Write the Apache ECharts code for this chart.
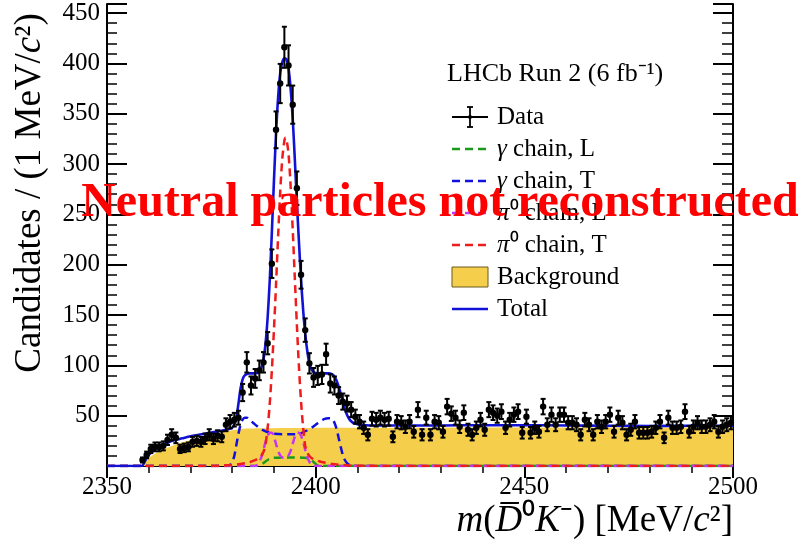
<!DOCTYPE html>
<html><head><meta charset="utf-8">
<script src="https://cdn.jsdelivr.net/npm/echarts@6/dist/echarts.min.js"></script>
<style>html,body{margin:0;padding:0;background:#fff}#c{width:798px;height:549px}</style>
</head><body><div id="c"></div>
<script>
// ---------------- data ----------------
const xRange = [2350, 2500];
const yRange = [0, 459];
const binStart = 2350.5;   // centre of first 1 MeV bin
const binWidth = 1;
const counts = [
  null,null,null,null,null,null,null,null,
  6,11,17,19,19,20,26,31,28,17,
  18,19,24,25,24,27,31,27,30,29,
  41,44,46,48,73,103,80,87,95,103,
  122,201,334,380,416,398,359,276,190,135,
  102,88,90,91,111,82,80,70,64,62,
  56,49,44,38,31,47,46,48,46,47,
  29,44,43,39,44,34,56,31,48,31,
  44,43,34,59,52,48,39,53,36,31,
  38,46,36,56,53,50,54,38,46,51,
  54,33,49,33,38,34,59,41,51,41,
  51,51,43,43,41,31,46,41,31,44,
  39,44,51,34,48,43,31,36,44,33,
  33,33,34,38,44,28,48,38,38,39,
  54,34,39,43,39,39,41,44,34,39,
  41,43
];
const background = [[2350,0],[2358.5,0],[2359,2],[2359.5,5],[2360,8],[2361,11],[2362,13.5],[2363,15.5],[2364,17.5],[2365,19],[2366,20.5],[2367,22],[2368,23.5],[2369,24.5],[2370,25.5],[2372,27.5],[2374,29.5],[2376,31.5],[2378,33.5],[2380,35.5],[2382,36.8],[2384,37.3],[2388,37.6],[2395,37.8],[2410,38],[2450,38.3],[2480,38.2],[2500,38.3]];
const total = [[2350,0],[2358.3,0],[2359,4],[2359.5,8],[2360,11],[2361,15],[2362,18],[2363,20.5],[2364,22.5],[2365,24],[2366,25.5],[2368,27.5],[2370,29.5],[2372,31],[2374,32.5],[2376,34],[2378,35.5],[2379,36.5],[2380,38],[2380.5,41],[2381,48],[2381.5,62],[2382,77],[2382.5,86],[2383,90],[2384,92],[2385,92],[2386,92.5],[2386.5,94],[2387,98],[2387.5,106],[2388,122],[2388.5,148],[2389,185],[2389.5,232],[2390,283],[2390.5,330],[2391,366],[2391.5,390],[2392,401],[2392.5,405],[2393,404],[2393.5,395],[2394,375],[2394.5,345],[2395,305],[2395.5,262],[2396,222],[2396.5,185],[2397,155],[2397.5,131],[2398,114],[2398.5,102],[2399,96],[2399.5,93.5],[2400,92.5],[2401,92],[2402,92],[2403,92],[2404,91],[2404.5,89],[2405,85],[2405.5,79],[2406,72],[2406.5,64],[2407,57],[2407.5,51],[2408,47],[2408.5,44.5],[2409,43],[2410,41.5],[2411,40.8],[2413,40.3],[2420,40.2],[2430,40.3],[2440,40.5],[2450,40.5],[2460,40.3],[2470,40],[2480,39.8],[2490,40],[2500,40]];
const pi0ChainT = [[2350,0],[2375,0],[2378,0.5],[2380,1],[2382,2],[2384,3.5],[2385,5],[2386,7],[2386.5,8.5],[2387,10.5],[2387.5,14],[2388,22],[2388.5,38],[2389,62],[2389.5,95],[2390,135],[2390.5,180],[2391,228],[2391.5,272],[2392,305],[2392.5,323],[2392.8,326],[2393,325],[2393.5,310],[2394,278],[2394.5,235],[2395,187],[2395.5,140],[2396,98],[2396.5,64],[2397,38],[2397.5,20],[2398,13],[2398.5,10],[2399,8],[2400,6],[2401,4.5],[2402,3.5],[2404,2],[2406,1.2],[2408,0.6],[2412,0.2],[2420,0],[2500,0]];
const gammaChainT = [[2350,0],[2379,0],[2379.5,1],[2380,4],[2380.5,10],[2381,21],[2381.5,32],[2382,41],[2382.5,46],[2383,48],[2383.5,48],[2384,46.5],[2385,43],[2386,39.5],[2387,36.5],[2388,34.5],[2389,33],[2390,32],[2392,31.5],[2394,31.5],[2396,32],[2397,33.5],[2398,35.5],[2399,38],[2400,41],[2401,44],[2402,46.5],[2403,47.5],[2403.5,47.5],[2404,46.5],[2404.5,43],[2405,37],[2405.5,28],[2406,19],[2406.5,11],[2407,6],[2407.5,3],[2408,1.5],[2409,0.5],[2410,0],[2500,0]];
const pi0ChainL = [[2350,0],[2385.5,0],[2386,1],[2386.5,4],[2387,9],[2387.5,16],[2388,24],[2388.5,30],[2389,33],[2389.5,33],[2390,29],[2390.5,22],[2391,15],[2391.5,10.5],[2392,8.5],[2392.5,8],[2393,8.5],[2393.5,10.5],[2394,15],[2394.5,22],[2395,29],[2395.5,33],[2396,33],[2396.5,30],[2397,24],[2397.5,16],[2398,9],[2398.5,4],[2399,1.5],[2399.5,0],[2500,0]];
const gammaChainL = [[2350,0],[2386,0],[2386.5,0.5],[2387.5,3],[2388.5,6],[2389.5,7.8],[2391,8.3],[2394,8.5],[2397,8.3],[2398.5,7.5],[2399.5,4],[2400.3,1],[2401,0],[2500,0]];

// ---------------- style ----------------
const SERIF = "'Liberation Serif','Times New Roman',serif";
const C = {green:'#1a9a1a', blue:'#1010e0', magenta:'#c436f2', red:'#ee1c1c', bkg:'#f5cf4b', total:'#1212d6'};
const DASH = [8,5];
const LFS = 25; // legend font size

// data points with Poisson errors
const points = [];
counts.forEach((n,i)=>{ if(n!==null) points.push([binStart+i*binWidth, n, Math.sqrt(n)]); });

const chart = echarts.init(document.getElementById('c'), null, {renderer:'canvas'});
const axisCommon = {type:'value', min:xRange[0], max:xRange[1], interval:50, splitLine:{show:false}};
const lineBlack = {color:'#000', width:2};
const rich = {
  i:{fontFamily:SERIF, fontStyle:'italic', fontSize:LFS, color:'#000'}
};
function legendLine(y,color){
  return {type:'line', shape:{x1:452,y1:y,x2:488,y2:y}, style:{stroke:color,lineWidth:2.5,lineDash:DASH}, z:50};
}
function legendText(y,txt){
  return {type:'text', x:497, y:y, style:{text:txt, font:LFS+'px '+SERIF, fill:'#000', verticalAlign:'middle', rich:rich}, z:50};
}
const LY = [117,149,181,213,245,277,309];

const option = {
  animation:false,
  backgroundColor:'#fff',
  grid:{left:107, right:65, top:4, bottom:83, containLabel:false},
  xAxis:[
    Object.assign({}, axisCommon, {position:'bottom',
      axisLine:{show:true,lineStyle:lineBlack},
      axisTick:{inside:true,length:11,lineStyle:lineBlack},
      minorTick:{show:true,splitNumber:5,length:6,lineStyle:{color:'#000',width:1.5}},
      axisLabel:{fontFamily:SERIF,fontSize:25,color:'#000',margin:9, formatter:v=>String(v)}}),
    Object.assign({}, axisCommon, {position:'top',
      axisLine:{show:true,lineStyle:lineBlack},
      axisTick:{inside:true,length:12,lineStyle:lineBlack},
      minorTick:{show:true,splitNumber:5,length:7,lineStyle:{color:'#000',width:1.5}},
      axisLabel:{show:false}})
  ],
  yAxis:[
    {type:'value', min:yRange[0], max:yRange[1], interval:50, position:'left',
      splitLine:{show:false},
      axisLine:{show:true,lineStyle:lineBlack},
      axisTick:{inside:true,length:20,lineStyle:lineBlack},
      axisLabel:{fontFamily:SERIF,fontSize:25,color:'#000',margin:7,
        formatter:v=> (v>0 && v%50===0) ? String(v) : ''}},
    {type:'value', min:yRange[0], max:yRange[1], interval:10, position:'left',
      splitLine:{show:false}, axisLine:{show:false},
      axisTick:{inside:true,length:10,lineStyle:{color:'#000',width:1.5}},
      axisLabel:{show:false}},
    {type:'value', min:yRange[0], max:yRange[1], interval:50, position:'right',
      splitLine:{show:false},
      axisLine:{show:true,lineStyle:lineBlack},
      axisTick:{inside:true,length:20,lineStyle:lineBlack},
      axisLabel:{show:false}},
    {type:'value', min:yRange[0], max:yRange[1], interval:10, position:'right',
      splitLine:{show:false}, axisLine:{show:false},
      axisTick:{inside:true,length:11,lineStyle:{color:'#000',width:1.5}},
      axisLabel:{show:false}}
  ],
  series:[
    {name:'Background', type:'line', data:background, symbol:'none', smooth:0.3, z:1,
      lineStyle:{width:0}, areaStyle:{color:C.bkg, opacity:1}},
    {name:'γ chain, L', type:'line', data:gammaChainL, symbol:'none', smooth:0.3, z:3,
      lineStyle:{color:C.green,width:2.5,type:DASH}},
    {name:'γ chain, T', type:'line', data:gammaChainT, symbol:'none', smooth:0.3, z:3,
      lineStyle:{color:C.blue,width:2.5,type:DASH}},
    {name:'π0 chain, L', type:'line', data:pi0ChainL, symbol:'none', smooth:0.3, z:3,
      lineStyle:{color:C.magenta,width:2.5,type:DASH}},
    {name:'π0 chain, T', type:'line', data:pi0ChainT, symbol:'none', smooth:0.3, z:3,
      lineStyle:{color:C.red,width:2.5,type:DASH}},
    {name:'Total', type:'line', data:total, symbol:'none', smooth:0.3, z:4,
      lineStyle:{color:C.total,width:2.6}},
    {name:'Data', type:'custom', z:6, data:points, encode:{x:0,y:1},
      renderItem:function(params, api){
        const x=api.value(0), y=api.value(1), e=api.value(2);
        const c=api.coord([x,y]), t=api.coord([x,y+e]), b=api.coord([x,Math.max(0,y-e)]);
        const l=api.coord([x-binWidth/2,y]), r=api.coord([x+binWidth/2,y]);
        const st={stroke:'#000',lineWidth:2};
        return {type:'group', children:[
          {type:'line', shape:{x1:c[0],y1:t[1],x2:c[0],y2:b[1]}, style:st},
          {type:'line', shape:{x1:c[0]-2.5,y1:t[1],x2:c[0]+2.5,y2:t[1]}, style:st},
          {type:'line', shape:{x1:c[0]-2.5,y1:b[1],x2:c[0]+2.5,y2:b[1]}, style:st},
          {type:'line', shape:{x1:l[0],y1:c[1],x2:r[0],y2:c[1]}, style:st},
          {type:'circle', shape:{cx:c[0],cy:c[1],r:3.2}, style:{fill:'#000'}}
        ]};
      }}
  ],
  graphic:[
    // axis titles
    {type:'text', x:30, y:193, rotation:Math.PI/2, z:50,
      style:{text:'Candidates / (1 MeV/{ci|c}²)', font:'37px '+SERIF, fill:'#000', align:'center', verticalAlign:'middle',
        rich:{ci:{fontFamily:SERIF,fontStyle:'italic',fontSize:37,color:'#000'}}}},
    {type:'text', x:733, y:521, z:50,
      style:{text:'{ci|m}({ci|D\u0305}⁰{ci|K}⁻) [MeV/{ci|c}²]', font:'37px '+SERIF, fill:'#000', align:'right', verticalAlign:'middle',
        rich:{ci:{fontFamily:SERIF,fontStyle:'italic',fontSize:37,color:'#000'}}}},
    // legend
    {type:'text', x:447, y:74, z:50, style:{text:'LHCb Run 2 (6 fb⁻¹)', font:'26px '+SERIF, fill:'#000', verticalAlign:'middle'}},
    {type:'line', shape:{x1:452,y1:LY[0],x2:488,y2:LY[0]}, style:{stroke:'#000',lineWidth:1.8}, z:50},
    {type:'line', shape:{x1:470,y1:LY[0]-10,x2:470,y2:LY[0]+10}, style:{stroke:'#000',lineWidth:1.8}, z:50},
    {type:'line', shape:{x1:467,y1:LY[0]-10,x2:473,y2:LY[0]-10}, style:{stroke:'#000',lineWidth:1.8}, z:50},
    {type:'line', shape:{x1:467,y1:LY[0]+10,x2:473,y2:LY[0]+10}, style:{stroke:'#000',lineWidth:1.8}, z:50},
    {type:'circle', shape:{cx:470,cy:LY[0],r:2}, style:{fill:'#000'}, z:50},
    legendText(LY[0],'Data'),
    legendLine(LY[1],C.green), legendText(LY[1],'{i|γ} chain, L'),
    legendLine(LY[2],C.blue), legendText(LY[2],'{i|γ} chain, T'),
    legendLine(LY[3],C.magenta), legendText(LY[3],'{i|π}⁰ chain, L'),
    legendLine(LY[4],C.red), legendText(LY[4],'{i|π}⁰ chain, T'),
    {type:'rect', shape:{x:452,y:LY[5]-10,width:36,height:20}, style:{fill:C.bkg,stroke:'#6a5a20',lineWidth:1}, z:50},
    legendText(LY[5],'Background'),
    {type:'line', shape:{x1:452,y1:LY[6],x2:488,y2:LY[6]}, style:{stroke:C.total,lineWidth:2.6}, z:50},
    legendText(LY[6],'Total'),
    // watermark
    {type:'text', x:440, y:204, z:100,
      style:{text:'Neutral particles not reconstructed', font:'bold 48px '+SERIF, fill:'#ff0000', align:'center', verticalAlign:'middle'}}
  ]
};
chart.setOption(option);
</script></body></html>
